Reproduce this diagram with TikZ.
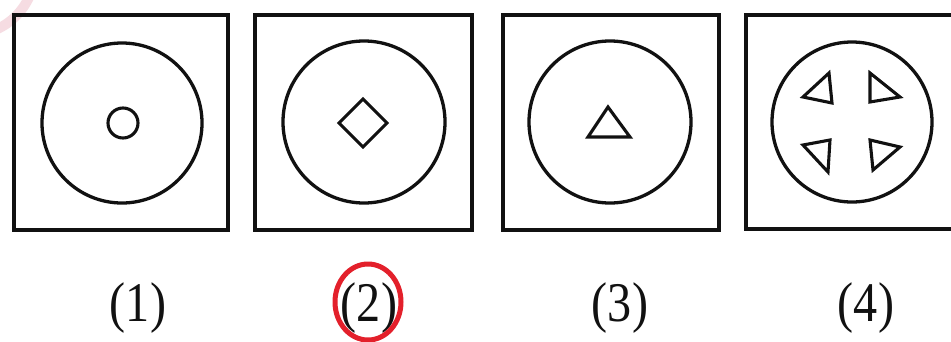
\documentclass[tikz,border=0pt]{standalone}
\usepackage{fontspec}
\setmainfont{Liberation Serif}
\usetikzlibrary{calc}
\definecolor{ink}{HTML}{111111}
\definecolor{pen}{HTML}{E3202B}
\definecolor{stamp}{HTML}{F6DCE2}
\begin{document}
\begin{tikzpicture}[x=1pt,y=-1pt,
  frame/.style={draw=ink,line width=3.6pt},
  ring/.style={draw=ink,line width=3.3pt},
  glyph/.style={draw=ink,line width=3.1pt,line join=miter},
  lab/.style={anchor=base,text=ink,inner sep=0pt,font=\fontsize{56}{60}\selectfont}]
\useasboundingbox (0,0) rectangle (951,341);
\clip (0,0) rectangle (951,341);
\fill[white] (0,0) rectangle (951,341);
% faint stamp arc at the corner
\draw[stamp,line width=10pt] (-30,-30) circle (65);
% panel 1
\draw[frame] (14,15) rectangle (228,230);
\draw[ring] (122,123) circle (80);
\draw[glyph] (123,123) circle (15);
% panel 2
\draw[frame] (255,15) rectangle (472,230);
\draw[ring] (364,122) circle (81);
\draw[glyph] (363,99) -- (387,123) -- (363,147) -- (339,123) -- cycle;
% panel 3
\draw[frame] (503,15) rectangle (719,230);
\draw[ring] (610,122) circle (81);
\draw[glyph] (608,107) -- (630,137) -- (588,137) -- cycle;
% panel 4
\draw[frame] (980,15) -- (746,15) -- (746,229) -- (980,229);
\draw[ring] (852,122) circle (80);
\draw[glyph] (829,73) -- (832,103) -- (803,97) -- cycle;
\draw[glyph] (870,73) -- (870,102) -- (900,97) -- cycle;
\draw[glyph] (830,140) -- (828,172) -- (803,145) -- cycle;
\draw[glyph] (870,140) -- (873,170) -- (900,147) -- cycle;
% labels
\node[lab] (l1) at (138,321) {\scalebox{0.86}[1]{(1)}};
\node[lab] (l2) at (369,321) {\scalebox{0.86}[1]{(2)}};
\node[lab] (l3) at (620,321) {\scalebox{0.86}[1]{(3)}};
\node[lab] (l4) at (866,321) {\scalebox{0.86}[1]{(4)}};
% red answer circle
\draw[pen,line width=5pt] (368,302) ellipse [x radius=33, y radius=38];
\end{tikzpicture}
\end{document}
